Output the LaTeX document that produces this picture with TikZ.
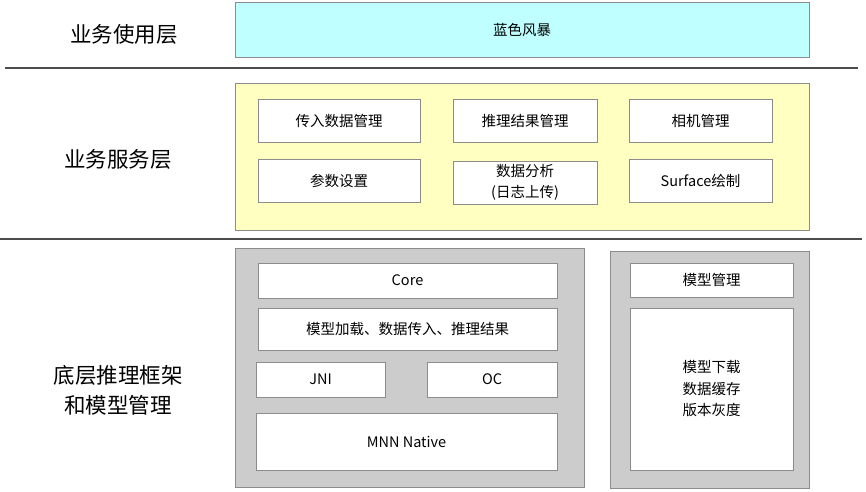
\documentclass[tikz,border=0pt]{standalone}
\usepackage{fontspec}
\setmainfont{Noto Sans CJK SC}
\usetikzlibrary{positioning}

\definecolor{linegray}{HTML}{8C8C8C}
\definecolor{cyanfill}{HTML}{BFFFFF}
\definecolor{yellowfill}{HTML}{FFFFC2}
\definecolor{grayfill}{HTML}{CCCCCC}

\tikzset{
  layer/.style={font=\fontsize{21.5}{30}\selectfont, align=center},
  area/.style={draw=linegray, line width=1pt, inner sep=0pt},
  box/.style={draw=linegray, line width=1pt, fill=white, inner sep=0pt,
    font=\fontsize{14.5}{21.5}\selectfont, align=center}
}

\begin{document}
\begin{tikzpicture}[x=1pt, y=-1pt]
  \useasboundingbox (0,0) rectangle (866,491);

  % 层名
  \node[layer] (ywsy) at (124,34) {业务使用层};
  \node[layer] (ywfw) at (118,159) {业务服务层};
  \node[layer] (dctl) at (118,390) {底层推理框架\\和模型管理};

  % 分隔线
  \coordinate (La) at (5,68);   \coordinate (Lb) at (858,68);
  \coordinate (Lc) at (0,239);  \coordinate (Ld) at (862,239);
  \draw[line width=1.2pt, black!70] (La) -- (Lb);
  \draw[line width=1.2pt, black!70] (Lc) -- (Ld);

  % 业务使用层
  \node[area, fill=cyanfill, minimum width=574, minimum height=55,
    font=\fontsize{14.5}{19}\selectfont] (lsfb) at (522,29.5) {蓝色风暴};

  % 业务服务层
  \node[area, fill=yellowfill, minimum width=574, minimum height=147] (fwbg) at (522,156.5) {};
  \node[box, minimum width=162, minimum height=43] (crsj) at (339,120.5) {传入数据管理};
  \node[box, minimum width=144, minimum height=43] (tljg) at (525,120.5) {推理结果管理};
  \node[box, minimum width=143, minimum height=43] (xjgl) at (700.5,120.5) {相机管理};
  \node[box, minimum width=162, minimum height=43] (cssz) at (339,180.5) {参数设置};
  \node[box, minimum width=144, minimum height=43] (sjfx) at (525,182.5) {数据分析\\(日志上传)};
  \node[box, minimum width=143, minimum height=43] (surf) at (700.5,180.5) {Surface绘制};

  % 底层推理框架
  \node[area, fill=grayfill, minimum width=349, minimum height=239] (tlkj) at (409.5,367.5) {};
  \node[box, minimum width=299, minimum height=35] (core) at (407.5,280.5) {Core};
  \node[box, minimum width=299, minimum height=42] (mxjz) at (407.5,329) {模型加载、数据传入、推理结果};
  \node[box, minimum width=129, minimum height=35] (jni) at (320.5,379.5) {JNI};
  \node[box, minimum width=130, minimum height=35] (oc) at (492,379.5) {OC};
  \node[box, minimum width=301, minimum height=57] (mnn) at (406.5,441.5) {MNN Native};

  % 模型管理
  \node[area, fill=grayfill, minimum width=199, minimum height=237] (mxbg) at (709.5,369.5) {};
  \node[box, minimum width=163, minimum height=34] (mxgl) at (711.5,280) {模型管理};
  \node[box, minimum width=163, minimum height=162] (mxxz) at (711.5,389) {模型下载\\数据缓存\\版本灰度};
\end{tikzpicture}
\end{document}
